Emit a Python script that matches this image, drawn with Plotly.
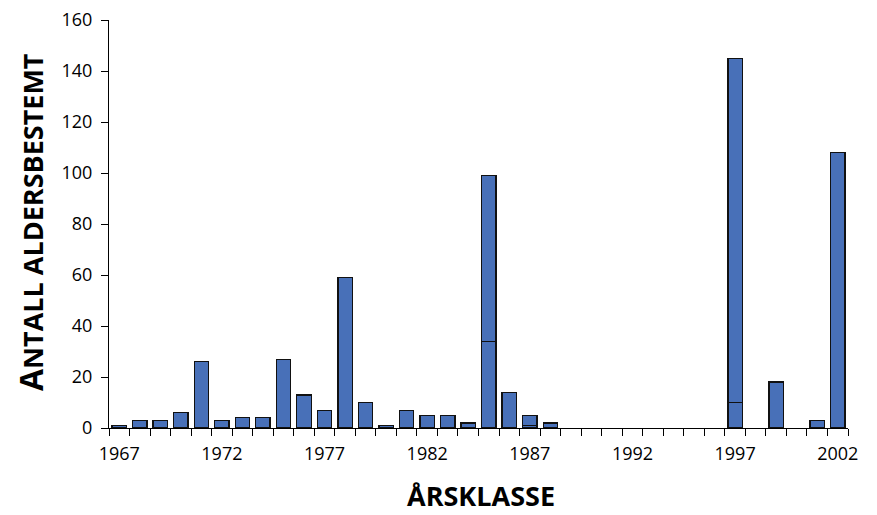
import plotly.graph_objects as go

years = list(range(1967, 2003))
totals = [1, 3, 3, 6, 26, 3, 4, 4, 27, 13, 7, 59, 10, 1, 7, 5, 5, 2, 99, 14, 5, 2,
          0, 0, 0, 0, 0, 0, 0, 0, 145, 0, 18, 0, 3, 108]
# lower segment inside some bars
lower = {1985: 34, 1987: 1, 1997: 10}
bottom_vals = [lower.get(y) for y in years]
top_vals = [(t - lower.get(y, 0)) if t > 0 else None for y, t in zip(years, totals)]

ytick_vals = [0, 20, 40, 60, 80, 100, 120, 140, 160]
xtick_vals = [1967, 1972, 1977, 1982, 1987, 1992, 1997, 2002]

bar_color = "#4870B8"
font_fam = "Open Sans, Noto Sans, sans-serif"

fig = go.Figure()
for vals in (bottom_vals, top_vals):
    fig.add_trace(go.Bar(x=years, y=vals, width=0.7,
                         marker=dict(color=bar_color, line=dict(color="#111111", width=1.3)),
                         showlegend=False))

fig.update_layout(
    barmode="stack",
    width=877, height=515,
    margin=dict(l=101, r=37, t=12, b=95),
    plot_bgcolor="white", paper_bgcolor="white",
    font=dict(family=font_fam, color="black", size=18),
    xaxis=dict(
        automargin=False,
        range=[1966.5, 2002.5], tickvals=xtick_vals, ticktext=[str(v) for v in xtick_vals],
        ticks="outside", ticklen=7, tickcolor="rgba(0,0,0,0)",
        showline=True, linecolor="black", linewidth=1, showgrid=False, zeroline=False,
        minor=dict(ticks="outside", ticklen=7, tick0=1966.5, dtick=1, tickcolor="black", showgrid=False),
        tickfont=dict(size=18), ticklabelstandoff=2, ticklabeloverflow="allow",
    ),
    yaxis=dict(
        automargin=False,
        range=[0, 160], tickvals=ytick_vals, ticks="outside", ticklen=7, tickcolor="black",
        showline=True, linecolor="black", linewidth=1, showgrid=False, zeroline=False,
        tickfont=dict(size=18), ticklabelstandoff=5, ticklabeloverflow="allow",
    ),
    annotations=[
        dict(text="ÅRSKLASSE", xref="paper", yref="paper", x=0.5, y=0,
             xanchor="center", yanchor="middle", yshift=-67, xshift=2, showarrow=False,
             font=dict(size=27, weight="bold")),
        dict(text="A<span style='font-size:27px'>NTALL ALDERSBESTEMT</span>",
             xref="paper", yref="paper", x=0, y=0.5, textangle=-90,
             xanchor="center", yanchor="middle", xshift=-79, yshift=2, showarrow=False,
             font=dict(size=32, weight="bold")),
    ],
)

fig.write_html("out.html")
